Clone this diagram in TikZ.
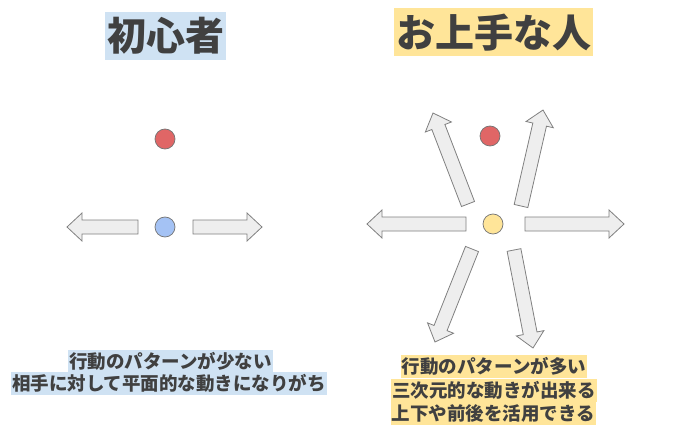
\documentclass[tikz,border=0pt]{standalone}
\usepackage{fontspec}
\newfontfamily\jp{Noto Sans CJK JP}
\usetikzlibrary{calc}
\definecolor{txt}{HTML}{404040}
\definecolor{bluebg}{HTML}{CFE2F3}
\definecolor{yellowbg}{HTML}{FFE599}
\definecolor{reddot}{HTML}{E06666}
\definecolor{bluedot}{HTML}{A4C2F4}
\definecolor{yeldot}{HTML}{FFE599}
\definecolor{arrfill}{HTML}{EEEEEE}
\definecolor{arrdraw}{HTML}{808080}
\tikzset{
  titlebox/.style={font=\jp\bfseries\fontsize{39}{39}\selectfont, text=txt, inner xsep=2pt, inner ysep=0pt, minimum height=48pt, text height=34.3pt, text depth=4.7pt},
  linebox/.style={font=\jp\bfseries\fontsize{18.5}{18.5}\selectfont, text=txt, inner xsep=1pt, inner ysep=0pt, minimum height=23pt, text height=16.3pt, text depth=2.2pt},
  dot/.style={circle, draw=black!55, line width=0.7pt, minimum size=20pt, inner sep=0pt},
  fatarrow/.style={fill=arrfill, draw=arrdraw, line width=0.8pt, line join=miter},
}
\newcommand{\fatarr}[2]{%
  \coordinate (#1h) at ($(#2)!15pt!(#1)$);
  \draw[fatarrow] ($(#1)!7pt!90:(#2)$) -- ($(#1h)!7pt!90:(#2)$) -- ($(#1h)!14pt!90:(#2)$) -- (#2)
    -- ($(#1h)!14pt!-90:(#2)$) -- ($(#1h)!7pt!-90:(#2)$) -- ($(#1)!7pt!-90:(#2)$) -- cycle;}
\begin{document}
\begin{tikzpicture}[x=1pt,y=-1pt]
\useasboundingbox (0,0) rectangle (680,441);
% titles
\node[titlebox, fill=bluebg] (t1) at (165.5,36) {初心者};
\node[titlebox, fill=yellowbg] (t2) at (493.5,32.5) {お上手な人};
% left panel
\node[dot, fill=reddot] (lr) at (165,139) {};
\node[dot, fill=bluedot] (lb) at (165,227) {};
\coordinate (l1) at (138,227); \coordinate (l1t) at (67,227);
\coordinate (l2) at (193,227); \coordinate (l2t) at (262,227);
\fatarr{l1}{l1t}
\fatarr{l2}{l2t}
% right panel
\node[dot, fill=reddot] (rr) at (490,136) {};
\node[dot, fill=yeldot] (ry) at (493,224) {};
\coordinate (r1) at (466,224); \coordinate (r1t) at (367,224);
\coordinate (r2) at (525,224); \coordinate (r2t) at (624,224);
\coordinate (r3) at (468,204); \coordinate (r3t) at (433,113);
\coordinate (r4) at (521,206); \coordinate (r4t) at (543,110);
\coordinate (r5) at (472,249); \coordinate (r5t) at (435,342);
\coordinate (r6) at (514,250); \coordinate (r6t) at (533,348);
\fatarr{r1}{r1t}
\fatarr{r2}{r2t}
\fatarr{r3}{r3t}
\fatarr{r4}{r4t}
\fatarr{r5}{r5t}
\fatarr{r6}{r6t}
% captions
\node[linebox, fill=bluebg] (c1) at (170.5,361) {行動のパターンが少ない};
\node[linebox, fill=bluebg] (c2) at (169,383.5) {相手に対して平面的な動きになりがち};
\node[linebox, fill=yellowbg] (d1) at (494,366.5) {行動のパターンが多い};
\node[linebox, fill=yellowbg] (d2) at (494,390) {三次元的な動きが出来る};
\node[linebox, fill=yellowbg] (d3) at (493.5,413.5) {上下や前後を活用できる};
\end{tikzpicture}
\end{document}
